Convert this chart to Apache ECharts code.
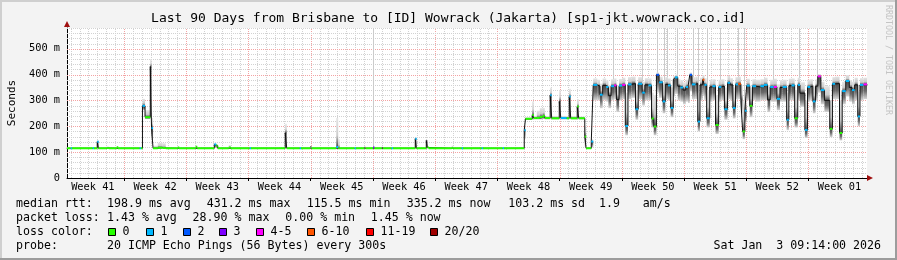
<!DOCTYPE html>
<html>
<head>
<meta charset="utf-8">
<script src="https://cdn.jsdelivr.net/npm/echarts@6.0.0/dist/echarts.min.js"></script>
<style>
html,body{margin:0;padding:0;background:#f3f3f3;}
#chart{width:897px;height:260px;}
</style>
</head>
<body>
<div id="chart"></div>
<script>
// ---------------- data ----------------
// x = days since Mon 6 Oct 2025 00:00 (start of ISO week 41); y = milliseconds
const weekLabels = ['Week 41','Week 42','Week 43','Week 44','Week 45','Week 46','Week 47','Week 48','Week 49','Week 50','Week 51','Week 52','Week 01'];
const yTickValues = [0, 100, 200, 300, 400, 500];
const yTickLabels = ['0', '100 m', '200 m', '300 m', '400 m', '500 m'];

const days = [
  0.56,1.01,1.14,3.49,3.62,3.99,4.13,5.06,5.29,6.19,6.32,8.77,8.90,9.08,9.37,9.96,10.10,10.27,10.80,11.36,
  11.70,13.05,13.18,15.07,15.24,17.16,17.38,17.55,18.79,19.01,21.15,21.28,25.14,25.31,26.78,26.91,27.96,28.09,30.88,31.10,
  31.27,32.96,33.09,34.03,34.17,35.02,35.16,36.00,36.13,37.12,37.26,39.77,39.90,41.01,41.14,41.28,43.87,44.04,45.00,45.13,
  47.25,47.38,49.61,49.75,52.03,52.17,52.93,53.10,53.44,53.78,54.11,54.34,54.95,55.12,55.97,56.14,56.81,57.09,57.26,57.99,
  58.16,58.84,58.99,59.57,59.79,
  60.25,60.55,60.85,61.25,61.5,61.8,62.15,62.4,62.7,63.05,
  63.4,63.7,64.1,64.55,64.85,65.3,65.6,66.0,66.35,66.6,
  66.9,67.2,67.6,67.9,68.2,68.5,68.8,69.0,69.3,69.6,
  69.9,70.2,70.45,70.65,70.9,71.3,71.55,71.8,72.1,72.3,
  72.55,72.9,73.2,73.55,73.9,74.2,74.55,74.9,75.2,75.5,
  75.8,76.1,76.4,76.6,76.85,77.05,77.4,77.7,78.1,78.6,
  79.0,79.4,79.7,80.1,80.45,80.8,81.1,81.55,81.8,82.1,
  82.45,82.8,83.05,83.6,83.9,84.2,84.5,84.8,85.05,85.4,
  85.8,86.4,86.7,87.0,87.5,87.8,88.2,88.6,88.9,89.2,
  89.55,89.8,90.2,90.59
];
const median = [
  115,115,115,115,115,140,115,116,115,119,115,115,115,279,235,431,193,115,117,116,
  115,118,115,121,115,130,125,115,118,115,115,115,175,115,115,115,122,115,120,115,
  115,115,115,121,115,118,115,120,115,115,115,152,115,145,118,115,116,115,115,115,
  115,115,115,115,185,229,244,232,232,236,240,232,320,231,296,232,231,315,231,276,
  231,160,115,141,360,
  355,322,358,352,318,355,358,303,357,360,
  201,362,365,266,364,330,360,358,230,199,
  399,370,296,362,358,271,380,389,355,350,
  340,352,350,399,362,365,218,360,380,360,
  231,352,355,205,352,355,266,368,360,271,
  362,364,300,180,260,357,279,355,352,355,
  360,302,352,352,306,350,352,225,357,358,
  231,360,328,186,352,355,296,355,393,340,
  300,190,364,365,174,336,375,350,340,360,
  238,360,362,358
];
const smokeLo = [
  114,114,114,114,114,116,114,114,114,114,114,114,114,262,228,240,150,114,114,114,
  114,114,114,114,114,116,115,114,114,114,114,114,118,114,114,114,114,114,115,114,
  114,114,114,114,114,114,114,114,114,114,114,116,114,116,114,114,114,114,114,114,
  114,114,114,114,150,225,228,226,226,226,228,226,235,226,235,226,226,235,226,235,
  226,120,114,118,300,
  300,270,300,295,270,300,305,255,300,305,
  165,305,310,225,305,280,300,300,195,165,
  330,310,250,305,300,235,315,325,300,295,
  285,295,290,335,305,305,180,300,320,300,
  195,295,300,170,295,300,225,305,300,230,
  305,305,250,150,215,300,235,300,295,300,
  300,255,295,295,262,295,295,185,300,300,
  195,300,275,155,295,300,250,300,330,285,
  255,158,305,305,145,285,315,295,285,300,
  200,300,305,300
];
const smokeHi = [
  117,117,117,117,117,146,118,122,117,124,117,117,117,306,262,460,232,125,136,134,
  117,122,117,124,117,133,130,117,127,117,117,117,210,118,117,117,124,117,232,150,
  117,117,117,123,117,120,117,122,117,117,117,156,117,146,120,117,125,117,117,117,
  117,117,117,117,200,235,296,240,260,270,271,240,349,240,340,240,238,345,240,305,
  238,200,120,150,385,
  380,365,385,378,360,382,385,355,383,388,
  330,390,392,340,390,372,386,385,330,320,
  408,392,360,390,385,350,395,400,382,378,
  370,380,378,408,390,392,330,388,398,386,
  340,380,382,320,380,382,350,395,386,350,
  390,392,360,300,330,384,350,382,380,382,
  388,360,380,384,362,378,380,330,384,385,
  340,388,370,300,380,382,355,382,402,372,
  355,300,390,392,300,372,398,378,372,388,
  335,386,388,385
];
// loss colour class per sample (index into lossColors), null = no median mark
const loss = [
  0,1,0,1,0,1,0,0,0,0,0,1,0,1,0,null,1,0,0,0,
  0,0,0,0,0,1,0,0,0,0,1,0,null,0,1,0,null,0,1,0,
  0,1,0,null,0,3,0,null,0,1,0,1,0,null,0,0,0,0,1,0,
  1,0,1,0,1,0,0,0,0,0,0,0,1,0,null,1,0,1,0,0,
  0,0,0,1,1,
  null,1,null,1,null,1,4,null,1,4,
  1,1,null,1,1,1,null,1,0,0,
  2,1,1,null,1,1,null,1,null,1,
  null,1,null,2,1,null,1,null,5,1,
  1,null,1,0,1,null,1,1,null,1,
  1,5,null,0,1,1,0,1,null,1,
  1,null,1,4,1,null,1,1,null,1,
  0,1,null,1,1,null,1,null,4,1,
  null,0,1,null,0,1,1,null,1,null,
  1,1,4,null
];
// samples whose slowest pings went off the top of the scale
const outlierDays = [35.04, 62.0, 65.25, 67.0, 67.7, 68.1, 69.2, 71.0, 71.55, 72.56, 74.03, 76.05, 76.8, 79.99, 82.91, 84.94];
const outlierFrom = [118, 358, 330, 399, 296, 360, 389, 360, 218, 231, 355, 364, 260, 352, 360, 393];

const lossColors = ['#26ff00','#00b8ff','#0059ff','#7e00ff','#ff00ff','#ff5500','#ff0000','#a00000'];
const lossLabels = ['0','1','2','3','4-5','6-10','11-19','20/20'];
const statsMedian = ['median rtt:','198.9 ms avg','431.2 ms max','115.5 ms min','335.2 ms now','103.2 ms sd','1.9','am/s'];
const statsLoss = ['packet loss:','1.43 % avg','28.90 % max','0.00 % min','1.45 % now'];
const probeText = ['probe:','20 ICMP Echo Pings (56 Bytes) every 300s'];
const titleText = 'Last 90 Days from Brisbane to [ID] Wowrack (Jakarta) [sp1-jkt.wowrack.co.id]';
const dateText = 'Sat Jan  3 09:14:00 2026';

// ---------------- chart ----------------
const X_MIN = 0.59, X_MAX = 90.59, Y_MAX = 580;
const MONO = '"DejaVu Sans Mono", monospace';
const n = days.length;

const weekCenters = weekLabels.map((_, i) => 3.5 + 7 * i);
const vGrid = [];
for (let d = 1; d <= 90; d++) vGrid.push([d, d % 7 === 0 ? 1 : 0]);
const hGrid = [];
for (let v = 20; v <= Y_MAX; v += 20) hGrid.push([v, v % 100 === 0 ? 1 : 0]);

const smokeData = [];
const segData = [];
for (let i = 0; i < n; i++) {
  const next = i < n - 1 ? days[i + 1] : X_MAX;
  smokeData.push([days[i], next, smokeLo[i], smokeHi[i], median[i]]);
  if (loss[i] !== null) segData.push([days[i], next, median[i], loss[i]]);
}
const outlierData = outlierDays.map((d, i) => [d, outlierFrom[i]]);
const lineData = days.map((d, i) => [d, median[i]]);

const chart = echarts.init(document.getElementById('chart'), null, {renderer: 'canvas'});

// frame / text graphics
const g = [];
g.push({type:'rect', shape:{x:0,y:0,width:897,height:260}, style:{fill:'#f3f3f3'}, z:-10, silent:true});
g.push({type:'rect', shape:{x:0,y:0,width:897,height:2}, style:{fill:'#cfcfcf'}, z:-9});
g.push({type:'rect', shape:{x:0,y:0,width:2,height:260}, style:{fill:'#cfcfcf'}, z:-9});
g.push({type:'rect', shape:{x:895,y:0,width:2,height:260}, style:{fill:'#9c9c9c'}, z:-9});
g.push({type:'rect', shape:{x:0,y:258,width:897,height:2}, style:{fill:'#9c9c9c'}, z:-9});
g.push({type:'rect', shape:{x:67,y:28,width:800,height:150}, style:{fill:'#ffffff'}, z:-8});
g.push({type:'text', x:448.5, y:19, style:{text:titleText, font:'13px ' + MONO, fill:'#000', align:'center', verticalAlign:'middle'}});
g.push({type:'text', x:12, y:103, rotation:Math.PI/2, style:{text:'Seconds', font:'11px ' + MONO, fill:'#000', align:'center', verticalAlign:'middle'}});
g.push({type:'text', x:888, y:5, rotation:-Math.PI/2, style:{text:'RRDTOOL / TOBI OETIKER', font:'8.3px ' + MONO, fill:'#c4c4c4', align:'left', verticalAlign:'middle'}});
g.push({type:'polygon', shape:{points:[[64,27],[70,27],[67,21]]}, style:{fill:'#a01010'}, z:50});
g.push({type:'polygon', shape:{points:[[867,175],[867,181],[873,178]]}, style:{fill:'#a01010'}, z:50});

const LF = '11.6px ' + MONO;
const lineY = [204, 218, 232, 246];
const medX = [16, 107, 206.7, 306.7, 406.7, 508.3, 599, 642.7];
statsMedian.forEach((t, i) => g.push({type:'text', x:medX[i], y:lineY[0], style:{text:t, font:LF, fill:'#000', verticalAlign:'middle'}}));
const lossX = [16, 107, 192.6, 285.3, 370.8];
statsLoss.forEach((t, i) => g.push({type:'text', x:lossX[i], y:lineY[1], style:{text:t, font:LF, fill:'#000', verticalAlign:'middle'}}));
g.push({type:'text', x:16, y:lineY[2], style:{text:'loss color:', font:LF, fill:'#000', verticalAlign:'middle'}});
const boxX = [108, 145.7, 182.7, 219.3, 256, 306.7, 365.7, 430];
lossLabels.forEach((t, i) => {
  g.push({type:'rect', shape:{x:Math.round(boxX[i]) + 0.5, y:228.5, width:7, height:7}, style:{fill:lossColors[i], stroke:'#000', lineWidth:1}});
  g.push({type:'text', x:Math.round(boxX[i]) + 14.5, y:lineY[2], style:{text:t, font:LF, fill:'#000', verticalAlign:'middle'}});
});
g.push({type:'text', x:16, y:lineY[3], style:{text:probeText[0], font:LF, fill:'#000', verticalAlign:'middle'}});
g.push({type:'text', x:107, y:lineY[3], style:{text:probeText[1], font:LF, fill:'#000', verticalAlign:'middle'}});
g.push({type:'text', x:881, y:lineY[3], style:{text:dateText, font:LF, fill:'#000', align:'right', verticalAlign:'middle'}});

const option = {
  animation: false,
  backgroundColor: '#f3f3f3',
  graphic: g,
  grid: {left: 67, right: 30, top: 28, bottom: 82, outerBoundsMode: 'none', containLabel: false},
  xAxis: {
    type: 'value', min: X_MIN, max: X_MAX,
    axisLine: {show: true, lineStyle: {color: '#000', width: 1}},
    axisTick: {show: true, customValues: weekCenters.map(c => c + 3.5).filter(v => v < X_MAX), length: 3, lineStyle: {color: '#000'}},
    axisLabel: {
      show: true, customValues: weekCenters, margin: 4,
      formatter: v => weekLabels[Math.round((v - 3.5) / 7)] || '',
      fontFamily: '"DejaVu Sans Mono", monospace', fontSize: 10.3, color: '#000'
    },
    splitLine: {show: false}
  },
  yAxis: {
    type: 'value', min: 0, max: Y_MAX, interval: 100,
    axisLine: {show: true, lineStyle: {color: '#000', width: 1}},
    axisTick: {show: false},
    axisLabel: {
      show: true, margin: 7,
      formatter: v => { const k = yTickValues.indexOf(v); return k >= 0 ? yTickLabels[k] : ''; },
      fontFamily: '"DejaVu Sans Mono", monospace', fontSize: 10.3, color: '#000'
    },
    splitLine: {show: false}
  },
  series: [
    { // vertical grid (days / weeks)
      type: 'custom', z: 1, silent: true, clip: true,
      data: vGrid, encode: {x: 0},
      renderItem: (params, api) => {
        const x = Math.round(api.coord([api.value(0), 0])[0]) + 0.5;
        const y0 = api.coord([api.value(0), 0])[1];
        const y1 = api.coord([api.value(0), Y_MAX])[1];
        const major = api.value(1) === 1;
        return {type: 'line', shape: {x1: x, y1: y0, x2: x, y2: y1},
          style: {stroke: major ? '#f3a3a3' : '#d2d2d2', lineWidth: 1, lineDash: [1, 1]}};
      }
    },
    { // horizontal grid (20 ms / 100 ms)
      type: 'custom', z: 1, silent: true, clip: true,
      data: hGrid, encode: {y: 0},
      renderItem: (params, api) => {
        const p0 = api.coord([X_MIN, api.value(0)]);
        const p1 = api.coord([X_MAX, api.value(0)]);
        const y = Math.round(p0[1]) + 0.5;
        const major = api.value(1) === 1;
        return {type: 'line', shape: {x1: p0[0], y1: y, x2: p1[0], y2: y},
          style: {stroke: major ? '#f3a3a3' : '#d2d2d2', lineWidth: 1, lineDash: [1, 1]}};
      }
    },
    { // pings off the top of the scale
      type: 'custom', z: 2, silent: true, clip: true,
      data: outlierData, encode: {x: 0, y: 1},
      renderItem: (params, api) => {
        const pb = api.coord([api.value(0), api.value(1)]);
        const pt = api.coord([api.value(0), Y_MAX]);
        return {type: 'rect', shape: {x: Math.round(pb[0]), y: pt[1], width: 1, height: pb[1] - pt[1]},
          style: {fill: '#cbcbcb'}};
      }
    },
    { // smoke: shaded from light (outer pings) to dark (near the median)
      type: 'custom', z: 3, silent: true, clip: true,
      data: smokeData, encode: {x: [0, 1], y: [2, 3]},
      renderItem: (params, api) => {
        const x0 = api.value(0), x1 = api.value(1);
        const lo = api.value(2), hi = api.value(3), med = api.value(4);
        const a = api.coord([x0, hi]), b = api.coord([x1, lo]);
        const span = Math.max(hi - lo, 1e-6);
        const m = Math.min(Math.max((hi - med) / span, 0.02), 0.98);
        const grad = new echarts.graphic.LinearGradient(0, 0, 0, 1, [
          {offset: 0, color: '#e4e4e4'},
          {offset: m * 0.6, color: '#cdcdcd'},
          {offset: m, color: '#4a4a4a'},
          {offset: m + (1 - m) * 0.45, color: '#6a6a6a'},
          {offset: 1, color: '#d6d6d6'}
        ]);
        return {type: 'rect', shape: {x: a[0], y: a[1], width: b[0] - a[0], height: b[1] - a[1]}, style: {fill: grad}};
      }
    },
    { // median (dense smoke core)
      type: 'line', z: 4, silent: true, step: 'end', showSymbol: false, symbol: 'none',
      data: lineData, lineStyle: {color: '#111', width: 1}
    },
    { // median coloured by packet loss
      type: 'custom', z: 5, silent: true, clip: true,
      data: segData, encode: {x: [0, 1], y: 2},
      renderItem: (params, api) => {
        const p0 = api.coord([api.value(0), api.value(2)]);
        const p1 = api.coord([api.value(1), api.value(2)]);
        return {type: 'rect', shape: {x: p0[0], y: p0[1] - 1, width: Math.max(p1[0] - p0[0], 1.5), height: 2},
          style: {fill: lossColors[api.value(3)]}};
      }
    }
  ]
};
chart.setOption(option);
</script>
</body>
</html>
